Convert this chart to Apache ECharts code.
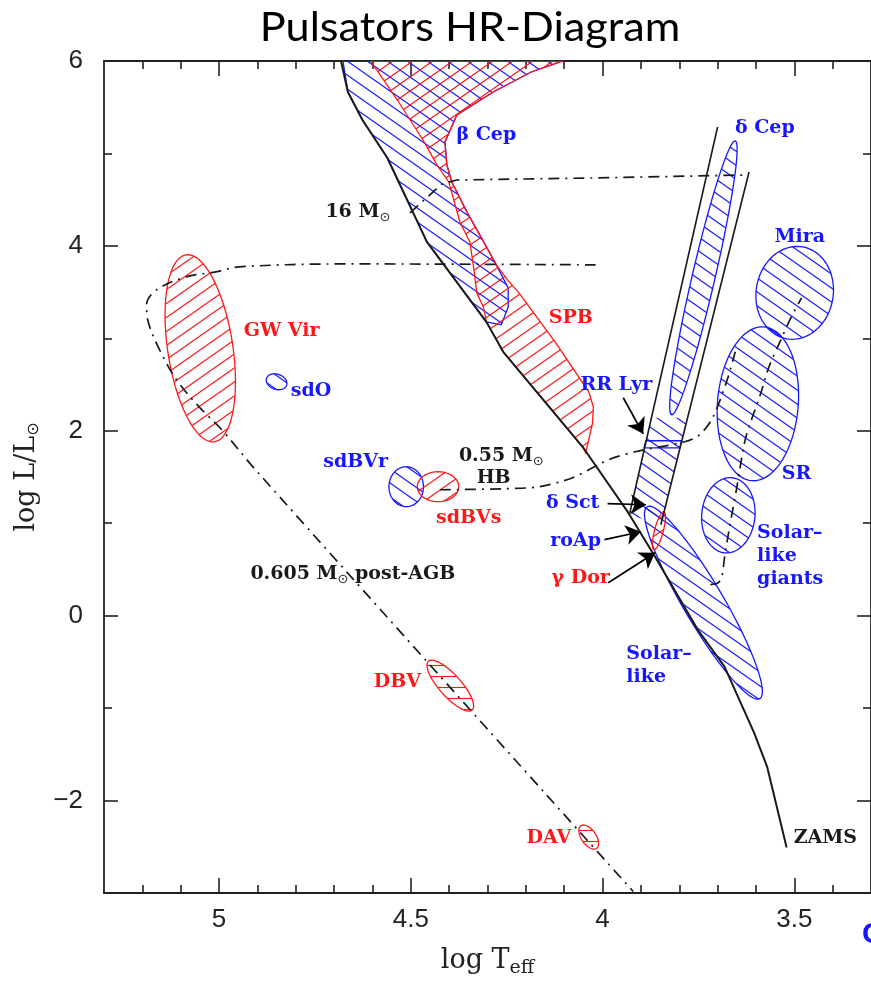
<!DOCTYPE html>
<html><head><meta charset="utf-8">
<script src="https://cdn.jsdelivr.net/npm/echarts@6/dist/echarts.min.js"></script>
<style>html,body{margin:0;padding:0;background:#fff}#c{width:871px;height:985px}</style>
</head><body><div id="c"></div>
<script>
// ---------------- DATA (log Teff, log L/Lsun) ----------------
const xMajorTicks = [3.5, 4, 4.5, 5];
const xMinorTicks = [3.4, 3.6, 3.7, 3.8, 3.9, 4.1, 4.2, 4.3, 4.4, 4.6, 4.7, 4.8, 4.9, 5.1, 5.2];
const yMajorTicks = [-2, 0, 2, 4, 6];
const yMinorTicks = [-3, -1, 1, 3, 5];

const zamsT = [4.682, 4.664, 4.626, 4.561, 4.458, 4.303, 4.259, 4.052, 3.933, 3.863, 3.752, 3.682, 3.605, 3.571, 3.520];
const zamsL = [6.00, 5.665, 5.362, 4.951, 4.043, 3.178, 2.854, 1.827, 1.114, 0.638, -0.151, -0.551, -1.265, -1.632, -2.508];

const betaCepT = [4.677, 4.664, 4.626, 4.561, 4.458, 4.303, 4.264, 4.246, 4.246, 4.277, 4.310, 4.354, 4.393, 4.406, 4.411, 4.380, 4.285, 4.186, 4.104];
const betaCepL = [6.000, 5.665, 5.362, 4.951, 4.043, 3.178, 3.146, 3.340, 3.546, 3.795, 4.043, 4.368, 4.692, 4.876, 5.124, 5.416, 5.665, 5.881, 6.000];

const spbT = [4.605, 4.535, 4.465, 4.432, 4.401, 4.372, 4.346, 4.336, 4.328, 4.310, 4.303, 4.259, 4.052, 4.044, 4.026, 4.024, 4.036, 4.122, 4.220, 4.248, 4.277, 4.310, 4.354, 4.393, 4.406, 4.411, 4.380, 4.285, 4.186, 4.104];
const spbL = [6.000, 5.578, 5.124, 4.876, 4.692, 4.259, 4.043, 3.762, 3.492, 3.330, 3.178, 2.854, 1.827, 1.762, 2.086, 2.259, 2.422, 2.951, 3.503, 3.632, 3.795, 4.043, 4.368, 4.692, 4.876, 5.124, 5.416, 5.665, 5.881, 6.000];

const stripLeftT = [3.700, 3.930];
const stripLeftL = [5.286, 1.092];
const stripRightT = [3.618, 3.848];
const stripRightL = [4.800, 0.984];

const deltaSctT = [3.874, 3.778, 3.848, 3.930];
const deltaSctL = [2.140, 2.140, 0.984, 1.092];
const rrLyrT = [3.887, 3.794, 3.799, 3.892];
const rrLyrL = [1.892, 1.892, 1.816, 1.816];

const ellipseNames = ['GW Vir', 'sdO', 'sdBVr', 'sdBVs', 'DBV', 'DAV', 'δ Cep', 'Mira', 'SR', 'Solar-like giants', 'Solar-like', 'γ Dor'];
const ellipseCenter = [[5.049, 2.892], [4.850, 2.530], [4.512, 1.395], [4.429, 1.395], [4.397, -0.757], [4.036, -2.395], [3.737, 3.654], [3.499, 3.492], [3.595, 2.292], [3.672, 1.086], [3.737, 0.140], [3.853, 0.919]];
const ellipseMajorTip = [[5.086, 3.903], [4.824, 2.491], [4.512, 1.611], [4.375, 1.395], [4.340, -1.021], [4.015, -2.516], [3.654, 5.135], [3.478, 3.989], [3.579, 3.124], [3.662, 1.492], [3.884, 1.178], [3.840, 1.124]];
const ellipseMinorTip = [[4.965, 2.945], [4.857, 2.453], [4.467, 1.395], [4.429, 1.557], [4.376, -0.677], [4.021, -2.346], [3.708, 3.626], [3.400, 3.419], [3.490, 2.257], [3.603, 1.055], [3.692, 0.251], [3.842, 0.907]];
const ellipseClass = ['r', 'b', 'b', 'r', 'rh', 'rh', 'b', 'b', 'b', 'b', 'b', 'r'];

const track16T = [4.502, 4.465, 4.419, 4.380, 4.018, 3.626];
const track16L = [4.357, 4.497, 4.670, 4.713, 4.735, 4.767];
const postAgbT = [4.018, 4.664, 4.949, 5.008, 5.086, 5.163, 5.189, 5.186, 5.155, 5.111, 5.052, 4.993, 4.905, 3.920];
const postAgbL = [3.795, 3.805, 3.773, 3.719, 3.665, 3.524, 3.362, 3.200, 2.876, 2.551, 2.259, 2.011, 1.578, -2.984];
const hbT = [4.424, 4.259, 4.166, 4.078, 3.985, 3.915, 3.786, 3.747, 3.713, 3.675, 3.654];
const hbL = [1.362, 1.373, 1.395, 1.492, 1.686, 1.773, 1.881, 1.957, 2.140, 2.551, 2.854];
const rgbT = [3.719, 3.698, 3.688, 3.682, 3.670, 3.651, 3.641, 3.626, 3.587, 3.566, 3.535, 3.509, 3.481];
const rgbL = [0.335, 0.357, 0.443, 0.627, 0.930, 1.362, 1.611, 1.935, 2.411, 2.692, 2.984, 3.222, 3.438];

const arrowFrom = [[3.946, 2.357], [3.987, 1.211], [3.995, 0.822], [3.985, 0.357]];
const arrowTo = [[3.894, 1.967], [3.887, 1.200], [3.900, 0.908], [3.863, 0.681]];

const blueLabels = [['β Cep', 4.303, 5.200], ['δ Cep', 3.577, 5.276], ['Mira', 3.486, 4.097], ['sdO', 4.760, 2.432], ['RR Lyr', 3.964, 2.497], ['SR', 3.494, 1.535], ['sdBVr', 4.644, 1.665], ['δ Sct', 4.078, 1.222], ['roAp', 4.070, 0.811]];
const redLabels = [['GW Vir', 4.837, 3.081], ['SPB', 4.083, 3.222], ['sdBVs', 4.349, 1.059], ['γ Dor', 4.057, 0.411], ['DBV', 4.535, -0.714], ['DAV', 4.140, -2.411]];
const blackLabels = [['16 M⊙', 4.638, 4.368], ['0.55 M⊙', 4.264, 1.730], ['HB', 4.284, 1.492], ['0.605 M⊙ post-AGB', 4.651, 0.454], ['ZAMS', 3.419, -2.411]];
const blueBlockLabels = [['Solar–\nlike\ngiants', 3.597, 1.022], ['Solar–\nlike', 3.938, -0.292]];

// ---------------- STYLE / RENDER ----------------
const BLUE = '#1717ff', RED = '#ff1717', INK = '#1a1a1a';
function hatch(color, kind) {
  const c = document.createElement('canvas');
  const ctx = c.getContext('2d');
  if (kind === 'h') {
    c.width = 10; c.height = 11;
    ctx.strokeStyle = color; ctx.lineWidth = 1.15;
    ctx.beginPath(); ctx.moveTo(0, 5.5); ctx.lineTo(10, 5.5); ctx.stroke();
  } else {
    const w = 20, h = 14;
    c.width = w; c.height = h;
    ctx.strokeStyle = color; ctx.lineWidth = 1.15;
    ctx.beginPath();
    for (const dx of [-w, 0, w]) for (const dy of [-h, 0, h]) {
      if (kind === '/') { ctx.moveTo(dx, dy + h); ctx.lineTo(dx + w, dy); }
      else { ctx.moveTo(dx, dy); ctx.lineTo(dx + w, dy + h); }
    }
    ctx.stroke();
  }
  return { image: c, repeat: 'repeat' };
}
const redHatch = hatch(RED, '/');
const blueHatch = hatch(BLUE, '\\');
const redHHatch = hatch(RED, 'h');
const classStyle = {
  r: { fill: redHatch, stroke: RED },
  b: { fill: blueHatch, stroke: BLUE },
  rh: { fill: redHHatch, stroke: RED }
};
const zip = (a, b) => a.map((v, i) => [v, b[i]]);

function polygonSeries(T, L, fill, stroke, z) {
  return {
    type: 'custom', coordinateSystem: 'cartesian2d', clip: true, silent: true, z,
    data: [[T[0], L[0]]],
    renderItem: (params, api) => ({
      type: 'polygon',
      shape: { points: T.map((t, i) => api.coord([t, L[i]])) },
      style: { fill: fill, stroke: stroke, lineWidth: 1.3 }
    })
  };
}
function lineSeries(T, L, style, smooth, z) {
  return {
    type: 'line', data: zip(T, L), showSymbol: false, symbol: 'none', smooth: smooth,
    lineStyle: style, z: z, silent: true, clip: true
  };
}
const dashDot = { color: INK, width: 1.7, type: [11, 6, 2, 6] };

const labelFont = { fontFamily: 'DejaVu Serif', fontWeight: 'bold', fontSize: 19 };
function richText(s) {
  if (s.indexOf('⊙') < 0) return s;
  return s.split('⊙').map((p, i, arr) => (p ? '{n|' + p + '}' : '') + (i < arr.length - 1 ? '{s|⊙}' : '')).join('');
}
function labelSeries(list, color, align, vAlign, lineHeight) {
  return {
    type: 'custom', coordinateSystem: 'cartesian2d', clip: false, silent: true, z: 20,
    data: list.map(d => [d[1], d[2]]),
    renderItem: (params, api) => {
      const d = list[params.dataIndex];
      const p = api.coord([d[1], d[2]]);
      return {
        type: 'text', x: p[0], y: p[1],
        style: Object.assign({
          text: richText(d[0]), fill: color, align: align, verticalAlign: vAlign,
          lineHeight: lineHeight,
          rich: {
            n: Object.assign({ fill: color }, labelFont),
            s: { fill: color, fontFamily: 'DejaVu Sans', fontSize: 13, padding: [12, 0, 0, 0] }
          }
        }, labelFont)
      };
    }
  };
}

const axisCol = '#222';
function xAx(pos, ticks, len, line, label) {
  return {
    type: 'value', min: 3.3, max: 5.3, inverse: true, position: pos,
    axisLine: { show: line, onZero: false, lineStyle: { color: axisCol, width: 1.8 } },
    axisTick: { show: true, inside: true, length: len, customValues: ticks, lineStyle: { color: axisCol, width: 1.6 } },
    axisLabel: label ? { show: true, customValues: ticks, margin: 14, fontSize: 26, fontFamily: 'Liberation Sans', color: axisCol, formatter: v => String(v) } : { show: false },
    splitLine: { show: false }
  };
}
function yAx(pos, ticks, len, line, label) {
  return {
    type: 'value', min: -3, max: 6, position: pos,
    axisLine: { show: line, onZero: false, lineStyle: { color: axisCol, width: 1.8 } },
    axisTick: { show: true, inside: true, length: len, customValues: ticks, lineStyle: { color: axisCol, width: 1.6 } },
    axisLabel: label ? { show: true, customValues: ticks, margin: 21, fontSize: 26, fontFamily: 'Liberation Sans', color: axisCol, formatter: v => (v < 0 ? '−' + Math.abs(v) : String(v)) } : { show: false },
    splitLine: { show: false }
  };
}
const xMain = xAx('bottom', xMajorTicks, 15, true, true);
xMain.name = '{a|log T}{s|eff}';
xMain.nameLocation = 'middle';
xMain.nameGap = 50;
xMain.nameTextStyle = { rich: { a: { fontFamily: 'DejaVu Serif', fontSize: 27, color: axisCol }, s: { fontFamily: 'DejaVu Serif', fontSize: 19, color: axisCol, padding: [16, 0, 0, 0] } } };
const yMain = yAx('left', yMajorTicks, 14, true, true);
yMain.name = '{a|log L/L}{s|⊙}';
yMain.nameLocation = 'middle';
yMain.nameRotate = 90;
yMain.nameGap = 62;
yMain.nameTextStyle = { rich: { a: { fontFamily: 'DejaVu Serif', fontSize: 27, color: axisCol }, s: { fontFamily: 'DejaVu Sans', fontSize: 16, color: axisCol, padding: [14, 0, 0, 0] } } };

const chart = echarts.init(document.getElementById('c'), null, { renderer: 'canvas' });
chart.setOption({
  animation: false,
  backgroundColor: '#fff',
  grid: { left: 104, top: 61, width: 774, height: 832, containLabel: false },
  xAxis: [xMain, xAx('bottom', xMinorTicks, 8, false, false), xAx('top', xMajorTicks, 15, true, false), xAx('top', xMinorTicks, 8, false, false)],
  yAxis: [yMain, yAx('left', yMinorTicks, 8, false, false), yAx('right', yMajorTicks, 14, true, false), yAx('right', yMinorTicks, 8, false, false)],
  graphic: [
    { type: 'text', x: 470, y: 28, scaleX: 1.08, style: { text: 'Pulsators HR-Diagram', font: '40px Lato', fill: '#000', align: 'center', verticalAlign: 'middle' } },
    { type: 'text', x: 862, y: 935, style: { text: 'C', font: 'bold 30px "Liberation Sans"', fill: BLUE, align: 'left', verticalAlign: 'middle' } }
  ],
  series: [
    polygonSeries(betaCepT, betaCepL, blueHatch, BLUE, 2),
    polygonSeries(spbT, spbL, redHatch, RED, 2),
    polygonSeries(deltaSctT, deltaSctL, blueHatch, null, 2),
    {
      type: 'custom', coordinateSystem: 'cartesian2d', clip: true, silent: true, z: 3,
      data: ellipseCenter,
      renderItem: (params, api) => {
        const i = params.dataIndex;
        const c = api.coord(ellipseCenter[i]);
        const a = api.coord(ellipseMajorTip[i]);
        const b = api.coord(ellipseMinorTip[i]);
        const u = [a[0] - c[0], a[1] - c[1]], v = [b[0] - c[0], b[1] - c[1]];
        const pts = [];
        for (let k = 0; k < 90; k++) {
          const t = k / 90 * Math.PI * 2;
          pts.push([c[0] + u[0] * Math.cos(t) + v[0] * Math.sin(t), c[1] + u[1] * Math.cos(t) + v[1] * Math.sin(t)]);
        }
        const st = classStyle[ellipseClass[i]];
        return { type: 'polygon', shape: { points: pts }, style: { fill: st.fill, stroke: st.stroke, lineWidth: 1.3 } };
      }
    },
    polygonSeries(rrLyrT, rrLyrL, 'none', BLUE, 4),
    lineSeries(zamsT, zamsL, { color: INK, width: 2 }, false, 6),
    lineSeries(stripLeftT, stripLeftL, { color: INK, width: 1.6 }, false, 6),
    lineSeries(stripRightT, stripRightL, { color: INK, width: 1.6 }, false, 6),
    lineSeries(track16T, track16L, dashDot, false, 6),
    lineSeries(postAgbT, postAgbL, dashDot, 0.35, 6),
    lineSeries(hbT, hbL, dashDot, 0.3, 6),
    lineSeries(rgbT, rgbL, dashDot, 0.3, 6),
    {
      type: 'lines', coordinateSystem: 'cartesian2d', z: 10, silent: true,
      symbol: ['none', 'arrow'], symbolSize: 15,
      lineStyle: { color: '#000', width: 1.7, opacity: 1 },
      data: arrowFrom.map((f, i) => ({ coords: [f, arrowTo[i]] }))
    },
    labelSeries(blueLabels, BLUE, 'center', 'middle', 22),
    labelSeries(redLabels, RED, 'center', 'middle', 22),
    labelSeries(blackLabels, INK, 'center', 'middle', 22),
    labelSeries(blueBlockLabels, BLUE, 'left', 'top', 23)
  ]
});
</script></body></html>
